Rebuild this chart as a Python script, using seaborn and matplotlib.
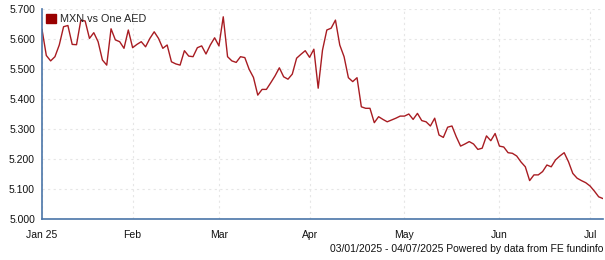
import numpy as np
import pandas as pd
import matplotlib
matplotlib.use("Agg")
import matplotlib.pyplot as plt
import seaborn as sns
from matplotlib.patches import Patch

series_name = "MXN vs One AED"
start_date = "2025-01-03"
end_date = "2025-07-04"
values = [
    5.632, 5.545, 5.527, 5.541, 5.580, 5.641, 5.645, 5.582, 5.581, 5.663,
    5.660, 5.602, 5.621, 5.591, 5.530, 5.513, 5.634, 5.597, 5.591, 5.569,
    5.630, 5.571, 5.582, 5.591, 5.574, 5.602, 5.624, 5.602, 5.569, 5.580,
    5.524, 5.517, 5.513, 5.561, 5.543, 5.541, 5.571, 5.577, 5.550, 5.580,
    5.604, 5.577, 5.674, 5.541, 5.527, 5.522, 5.541, 5.538, 5.499, 5.472,
    5.413, 5.432, 5.432, 5.454, 5.477, 5.504, 5.474, 5.466, 5.483, 5.536,
    5.549, 5.561, 5.539, 5.566, 5.436, 5.563, 5.630, 5.636, 5.663, 5.580,
    5.541, 5.471, 5.458, 5.471, 5.374, 5.369, 5.369, 5.321, 5.341, 5.332,
    5.324, 5.330, 5.336, 5.343, 5.343, 5.350, 5.332, 5.352, 5.328, 5.324,
    5.310, 5.336, 5.280, 5.272, 5.306, 5.310, 5.274, 5.243, 5.250, 5.258,
    5.250, 5.232, 5.236, 5.277, 5.261, 5.285, 5.243, 5.240, 5.221, 5.219,
    5.210, 5.190, 5.174, 5.128, 5.147, 5.147, 5.158, 5.180, 5.174, 5.197,
    5.210, 5.221, 5.191, 5.152, 5.136, 5.128, 5.121, 5.110, 5.093, 5.074,
    5.068,
]
y_ticks = [5.0, 5.1, 5.2, 5.3, 5.4, 5.5, 5.6, 5.7]
month_labels = ["Jan 25", "Feb", "Mar", "Apr", "May", "Jun", "Jul"]
footer = "03/01/2025 - 04/07/2025 Powered by data from FE fundinfo"

dates = pd.bdate_range(start_date, end_date)
df = pd.DataFrame({"date": dates, "idx": np.arange(len(dates)), "value": values})

sns.set_style("white")
plt.rcParams["font.family"] = ["Liberation Sans", "DejaVu Sans"]

fig = plt.figure(figsize=(6.05, 2.6), dpi=100)
ax = fig.add_axes([42 / 605, 1 - 219 / 260, (603 - 42) / 605, (219 - 9) / 260])

line_color = "#a81c22"
sns.lineplot(data=df, x="idx", y="value", ax=ax, color=line_color, linewidth=1.0)

# month ticks at first business day of each month
month_pos = df.groupby(df["date"].dt.to_period("M"))["idx"].min().tolist()
ax.set_xticks(month_pos)
ax.set_xticklabels(month_labels)
ax.set_xlim(0, len(dates) - 1)
ax.set_ylim(5.0, 5.7)
ax.set_yticks(y_ticks)
ax.set_yticklabels([f"{v:.3f}" for v in y_ticks])
ax.set_xlabel("")
ax.set_ylabel("")

grid_kw = dict(color="#e6e6e6", linestyle=(0, (2, 3)), linewidth=0.8)
ax.grid(True, axis="both", **grid_kw)

axis_color = "#4a75a8"
for s in ["top", "right"]:
    ax.spines[s].set_visible(False)
for s in ["left", "bottom"]:
    ax.spines[s].set_visible(True)
    ax.spines[s].set_color(axis_color)
    ax.spines[s].set_linewidth(1.2)

ax.tick_params(axis="both", which="both", direction="out", length=3, width=0.8,
               color="#222222", labelsize=7.5, labelcolor="#111111", pad=2)
ax.tick_params(axis="x", pad=5)

handle = Patch(facecolor="#990000", edgecolor="#990000")
leg = ax.legend([handle], [series_name], loc="upper left", frameon=False,
                fontsize=7.8, handlelength=0.9, handleheight=0.9,
                handletextpad=0.35, borderaxespad=0.2, bbox_to_anchor=(-0.004, 1.008))

fig.text(603 / 605, 1 - 249 / 260, footer, ha="right", va="center",
         fontsize=7.5, color="#111111")

fig.savefig("out.png", dpi=100, facecolor="white")
